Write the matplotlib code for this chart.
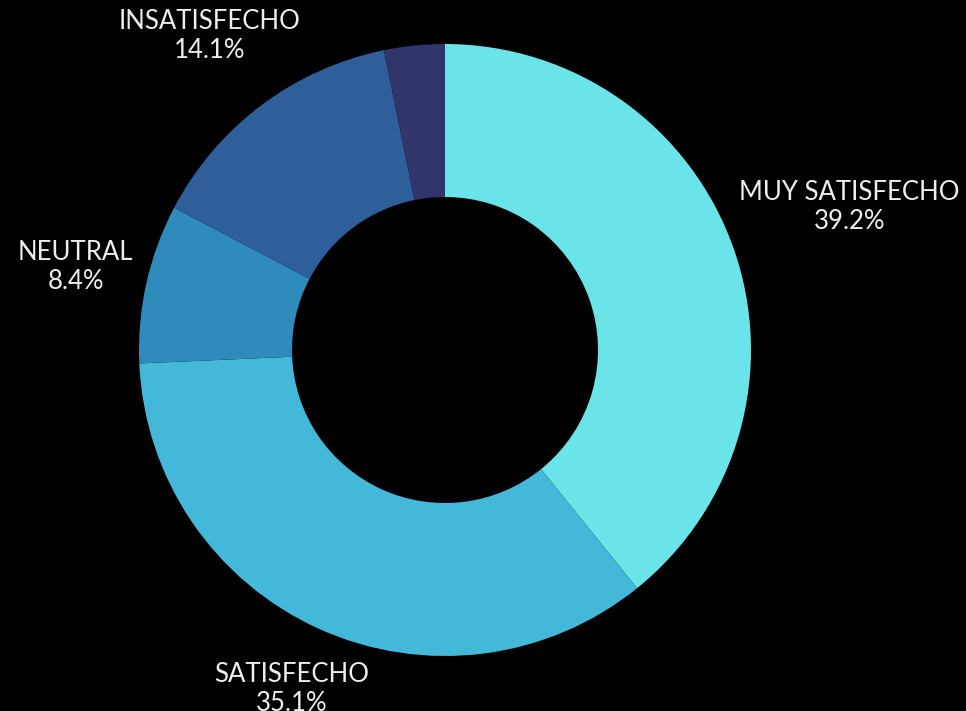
import numpy as np
import matplotlib.pyplot as plt

labels = ['MUY SATISFECHO', 'SATISFECHO', 'NEUTRAL', 'INSATISFECHO', '']
values = [39.2, 35.1, 8.4, 14.1, 3.2]
colors = ['#6ae4e8', '#43b8d8', '#2e8bbb', '#2e5f9a', '#32356a']

W, H = 966, 711
cx, cy, R = 445, 350, 306

fig = plt.figure(figsize=(W / 100, H / 100), dpi=100, facecolor='black')
ax = fig.add_axes([0, 0, 1, 1])
ax.set_facecolor('black')

wedges, _ = ax.pie(values, colors=colors, startangle=90, counterclock=False,
                   radius=1, wedgeprops=dict(width=0.5, edgecolor='none'))
ax.set_aspect('auto')
ax.set_xlim(-cx / R, (W - cx) / R)
ax.set_ylim(-(H - cy) / R, cy / R)
ax.axis('off')

texts = []
for w, lab, v in zip(wedges, labels, values):
    if not lab:
        continue
    ang = np.deg2rad((w.theta1 + w.theta2) / 2)
    t = ax.text(0, 0, f'{lab}\n{v:.1f}%', ha='center', va='center',
                multialignment='center', color='#eeeeee', fontsize=18.5,
                family='Lato', linespacing=1.2)
    texts.append((t, ang))

# push each label out along its slice's mid-angle until it clears the ring
fig.canvas.draw()
renderer = fig.canvas.get_renderer()
for t, ang in texts:
    bb = t.get_window_extent(renderer)
    hw, hh = bb.width / 2, bb.height / 2
    d = R + 10 + hw * abs(np.cos(ang)) + hh * abs(np.sin(ang))
    t.set_position((d / R * np.cos(ang), d / R * np.sin(ang)))

fig.savefig('out.png', dpi=100, facecolor='black')
